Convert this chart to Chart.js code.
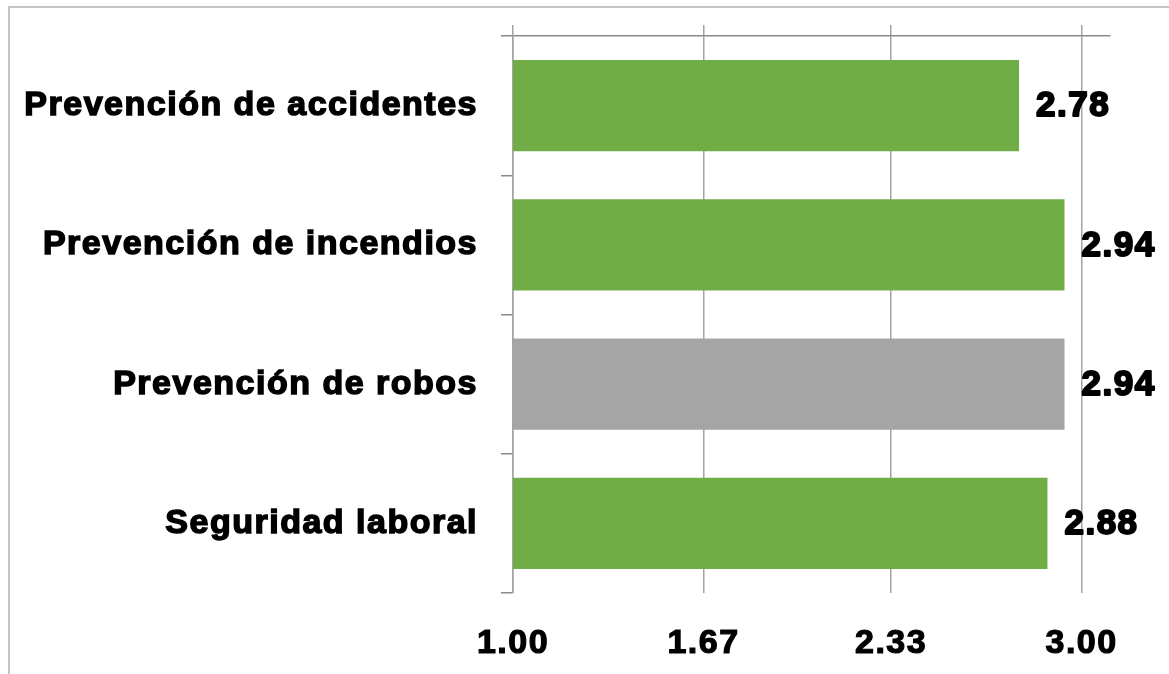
<!DOCTYPE html>
<html>
<head>
<meta charset="utf-8">
<script src="https://cdn.jsdelivr.net/npm/chart.js@4/dist/chart.umd.min.js"></script>
<style>
  html, body { margin: 0; padding: 0; background: #fff; overflow: hidden; }
  .frame { position: absolute; left: 8px; top: 6px; right: -10px; bottom: -10px; border-top: 2px solid #c4c4c4; border-left: 2px solid #c4c4c4; }
  .wrap { position: absolute; left: 0; top: 0; width: 1169px; height: 674px; }
</style>
</head>
<body>
<div class="frame"></div>
<div class="wrap"><canvas id="chart"></canvas></div>
<script>
// data
const categories = ['Prevención de accidentes', 'Prevención de incendios', 'Prevención de robos', 'Seguridad laboral']
const scores = [2.78, 2.94, 2.94, 2.88]
const barColors = ['#70ad47', '#70ad47', '#a5a5a5', '#70ad47']
const tickLabels = ['1.00', '1.67', '2.33', '3.00']
const axisMin = 1
const axisMax = 3.1

const fontFamily = '"Liberation Sans", Arial, Helvetica, sans-serif'
const tickValues = tickLabels.map(Number)
const setTicks = (scale) => {
  scale.ticks = tickValues.map((v) => ({ value: v }))
}
// keep label overflow from shrinking the plot area
const noPadding = (scale) => {
  scale.paddingTop = 0
  scale.paddingBottom = 0
  scale.paddingLeft = 0
  scale.paddingRight = 0
}

// slightly wider lettering, like the original
const spacing = {
  id: 'spacing',
  beforeDraw(chart) {
    chart.ctx.letterSpacing = '1.5px'
  }
}

// value labels right of each bar
const valueLabels = {
  id: 'valueLabels',
  afterDatasetsDraw(chart) {
    const ctx = chart.ctx
    const meta = chart.getDatasetMeta(0)
    ctx.save()
    ctx.font = 'bold 35px ' + fontFamily
    ctx.fillStyle = '#000'
    ctx.strokeStyle = '#000'
    ctx.lineWidth = 2
    ctx.lineJoin = 'round'
    ctx.textAlign = 'left'
    ctx.textBaseline = 'middle'
    meta.data.forEach((bar, i) => {
      const text = scores[i].toFixed(2)
      ctx.strokeText(text, bar.x + 17, bar.y + 1)
      ctx.fillText(text, bar.x + 17, bar.y + 1)
    })
    ctx.restore()
  }
}

const ctx = document.getElementById('chart').getContext('2d')
new Chart(ctx, {
  type: 'bar',
  data: {
    labels: categories,
    datasets: [
      {
        data: scores,
        backgroundColor: barColors,
        borderWidth: 0,
        categoryPercentage: 1,
        barPercentage: 0.655
      }
    ]
  },
  options: {
    indexAxis: 'y',
    responsive: true,
    maintainAspectRatio: false,
    animation: false,
    layout: {
      padding: { left: 0, top: 25, right: 59, bottom: 0 }
    },
    plugins: {
      legend: { display: false },
      tooltip: { enabled: false }
    },
    scales: {
      x: {
        position: 'bottom',
        min: axisMin,
        max: axisMax,
        afterBuildTicks: setTicks,
        afterFit(scale) {
          noPadding(scale)
          scale.height = 81
        },
        grid: { display: false, drawTicks: false },
        border: { display: false },
        ticks: {
          color: '#000',
          padding: 30,
          maxRotation: 0,
          autoSkip: false,
          textStrokeColor: '#000',
          textStrokeWidth: 1.2,
          font: { family: fontFamily, size: 34, weight: 'bold' },
          callback: (value, i) => tickLabels[i]
        }
      },
      x2: {
        position: 'top',
        axis: 'x',
        min: axisMin,
        max: axisMax,
        afterBuildTicks: setTicks,
        afterFit: noPadding,
        grid: { color: '#a3a3a3', lineWidth: 1.5, drawTicks: true, tickLength: 11 },
        border: { color: '#8a8a8a', width: 1.5 },
        ticks: { display: false }
      },
      y: {
        grid: {
          drawOnChartArea: false,
          drawTicks: true,
          tickLength: 12,
          color: '#8a8a8a',
          lineWidth: 1.5
        },
        border: { color: '#a3a3a3', width: 1.5 },
        ticks: {
          color: '#000',
          padding: 23,
          textStrokeColor: '#000',
          textStrokeWidth: 1.5,
          font: { family: fontFamily, size: 34, weight: 'bold' }
        },
        afterFit(scale) {
          noPadding(scale)
          scale.width = 513
        }
      }
    }
  },
  plugins: [spacing, valueLabels]
})
</script>
</body>
</html>
